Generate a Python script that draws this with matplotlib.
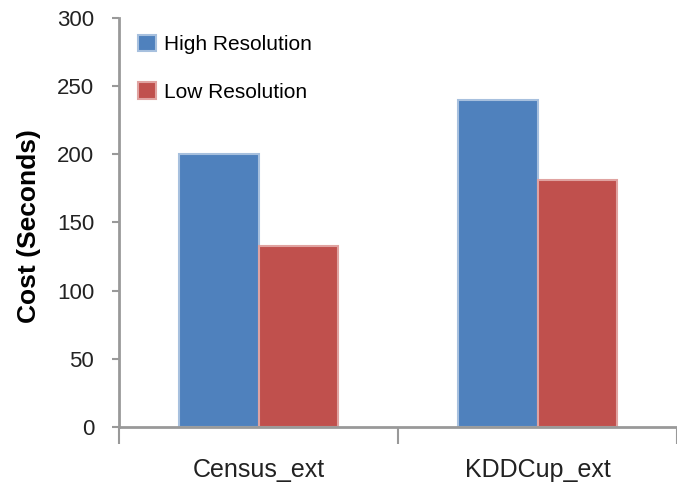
import numpy as np
import matplotlib
matplotlib.use('Agg')
import matplotlib.pyplot as plt

plt.rcParams['font.family'] = ['Liberation Sans', 'DejaVu Sans']

categories = ['Census_ext', 'KDDCup_ext']
series_names = ['High Resolution', 'Low Resolution']
high_res = [200, 240]
low_res = [133, 181]
yticks = [0, 50, 100, 150, 200, 250, 300]

fig = plt.figure(figsize=(6.77, 4.97), dpi=100)
ax = fig.add_axes([0.176, 0.141, 0.824, 0.823])

x = np.arange(len(categories))
w = 0.2857
ax.bar(x - w / 2, high_res, w, color='#4F81BD', edgecolor='#A7C0DE', linewidth=1.5,
       label=series_names[0], zorder=2)
ax.bar(x + w / 2, low_res, w, color='#C0504D', edgecolor='#E0A3A1', linewidth=1.5,
       label=series_names[1], zorder=2)

ax.set_xlim(-0.5, 1.5)
ax.set_ylim(0, 300)
ax.set_yticks(yticks)
ax.tick_params(axis='y', labelsize=16, length=5, width=1.5, color='#999999',
               labelcolor='#222222', pad=13)

# category tick marks sit between groups, labels centered under them
ax.set_xticks([-0.5, 0.5, 1.5])
ax.set_xticklabels([])
ax.tick_params(axis='x', length=12, width=1.5, color='#999999', direction='out')
for xi, name in zip(x, categories):
    ax.text(xi, -0.075, name, transform=ax.get_xaxis_transform(), ha='center', va='top',
            fontsize=18, color='#222222')

for s in ['top', 'right']:
    ax.spines[s].set_visible(False)
for s in ['left', 'bottom']:
    ax.spines[s].set_color('#999999')
    ax.spines[s].set_linewidth(2)

ax.set_ylabel('Cost (Seconds)', fontsize=19, fontweight='bold')
ax.yaxis.set_label_coords(-0.14, 0.49)

ax.legend(loc='upper left', bbox_to_anchor=(0.0, 1.005), frameon=False, fontsize=15,
          handlelength=0.85, handleheight=0.85, handletextpad=0.4, labelspacing=1.35,
          borderaxespad=0.5)

fig.savefig('out.png', dpi=100)
